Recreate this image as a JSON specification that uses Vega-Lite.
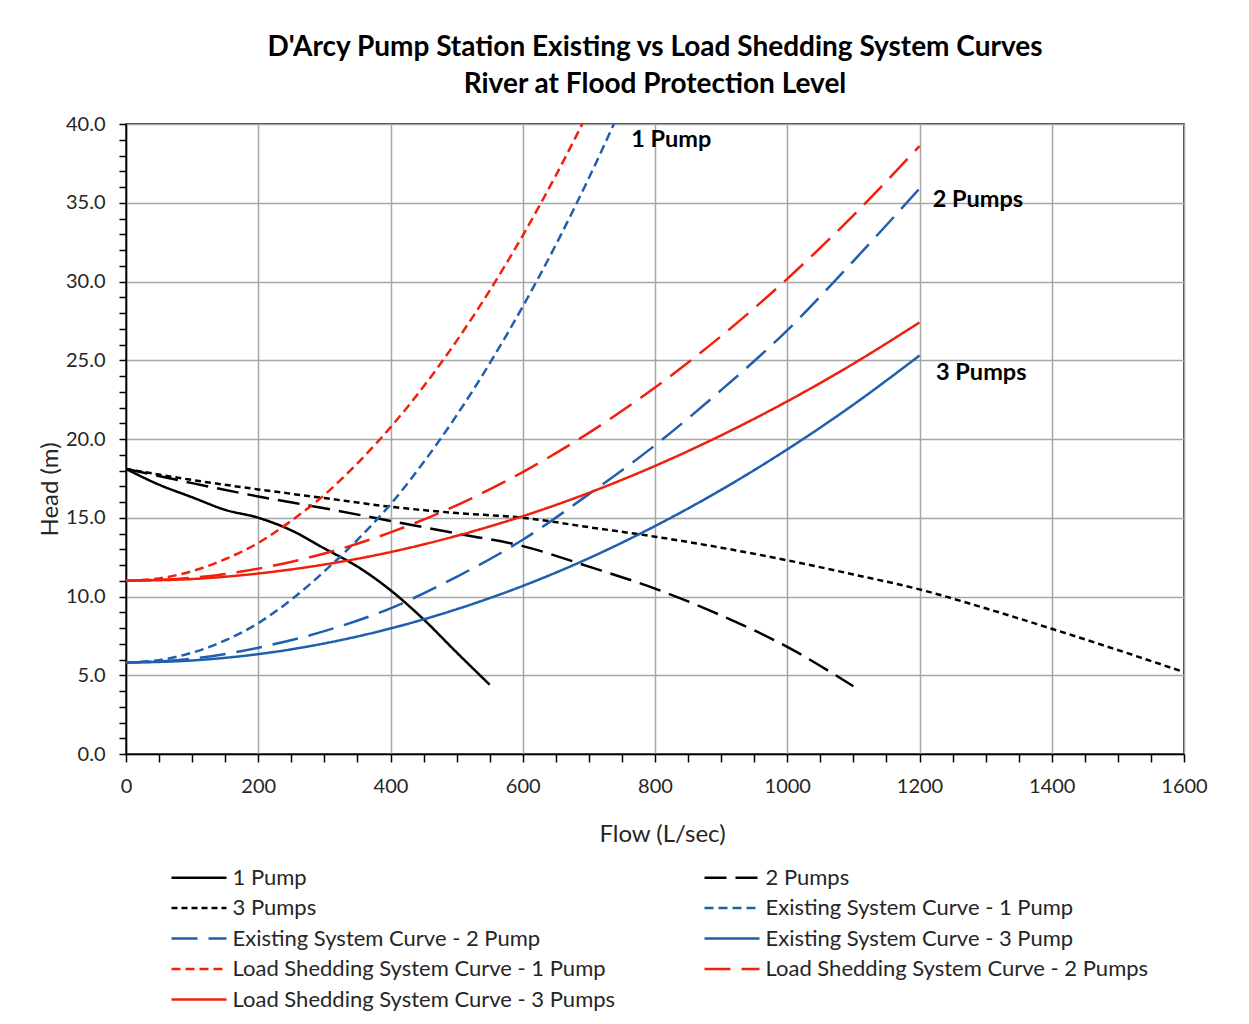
{
  "$schema": "https://vega.github.io/schema/vega-lite/v6.json",
  "width": 1058,
  "height": 630,
  "autosize": "none",
  "padding": {"left": 126, "top": 124, "right": 65, "bottom": 270},
  "background": "white",
  "config": {
    "font": "Lato",
    "view": {"stroke": "#000000", "strokeWidth": 1.5},
    "title": {"fontSize": 28, "fontWeight": "bold", "color": "#000000", "lineHeight": 37}
  },
  "title": {
    "text": ["D'Arcy Pump Station Existing vs Load Shedding System Curves", "River at Flood Protection Level"],
    "anchor": "middle",
    "offset": 15
  },
  "datasets": {
    "curves": [
      {"series": "1 Pump", "flow": 0, "head": 18.1},
      {"series": "1 Pump", "flow": 50, "head": 17.1},
      {"series": "1 Pump", "flow": 100, "head": 16.3},
      {"series": "1 Pump", "flow": 150, "head": 15.5},
      {"series": "1 Pump", "flow": 200, "head": 15.0},
      {"series": "1 Pump", "flow": 250, "head": 14.2},
      {"series": "1 Pump", "flow": 300, "head": 13.05},
      {"series": "1 Pump", "flow": 350, "head": 11.9},
      {"series": "1 Pump", "flow": 400, "head": 10.4},
      {"series": "1 Pump", "flow": 450, "head": 8.55},
      {"series": "1 Pump", "flow": 500, "head": 6.45},
      {"series": "1 Pump", "flow": 550, "head": 4.4},
      {"series": "2 Pumps", "flow": 0, "head": 18.1},
      {"series": "2 Pumps", "flow": 100, "head": 17.2},
      {"series": "2 Pumps", "flow": 200, "head": 16.35},
      {"series": "2 Pumps", "flow": 300, "head": 15.6},
      {"series": "2 Pumps", "flow": 400, "head": 14.8},
      {"series": "2 Pumps", "flow": 500, "head": 14.0},
      {"series": "2 Pumps", "flow": 600, "head": 13.2},
      {"series": "2 Pumps", "flow": 700, "head": 11.9},
      {"series": "2 Pumps", "flow": 800, "head": 10.5},
      {"series": "2 Pumps", "flow": 900, "head": 8.8},
      {"series": "2 Pumps", "flow": 1000, "head": 6.8},
      {"series": "2 Pumps", "flow": 1100, "head": 4.3},
      {"series": "3 Pumps", "flow": 0, "head": 18.1},
      {"series": "3 Pumps", "flow": 100, "head": 17.4},
      {"series": "3 Pumps", "flow": 200, "head": 16.8},
      {"series": "3 Pumps", "flow": 300, "head": 16.25},
      {"series": "3 Pumps", "flow": 400, "head": 15.7},
      {"series": "3 Pumps", "flow": 500, "head": 15.3},
      {"series": "3 Pumps", "flow": 600, "head": 15.0},
      {"series": "3 Pumps", "flow": 700, "head": 14.4},
      {"series": "3 Pumps", "flow": 800, "head": 13.8},
      {"series": "3 Pumps", "flow": 900, "head": 13.1},
      {"series": "3 Pumps", "flow": 1000, "head": 12.3},
      {"series": "3 Pumps", "flow": 1100, "head": 11.4},
      {"series": "3 Pumps", "flow": 1200, "head": 10.45},
      {"series": "3 Pumps", "flow": 1300, "head": 9.25},
      {"series": "3 Pumps", "flow": 1400, "head": 7.95},
      {"series": "3 Pumps", "flow": 1500, "head": 6.6},
      {"series": "3 Pumps", "flow": 1600, "head": 5.2},
      {"series": "Existing System Curve - 1 Pump", "flow": 0, "head": 5.8},
      {"series": "Existing System Curve - 1 Pump", "flow": 50, "head": 5.96},
      {"series": "Existing System Curve - 1 Pump", "flow": 100, "head": 6.43},
      {"series": "Existing System Curve - 1 Pump", "flow": 150, "head": 7.21},
      {"series": "Existing System Curve - 1 Pump", "flow": 200, "head": 8.31},
      {"series": "Existing System Curve - 1 Pump", "flow": 250, "head": 9.8},
      {"series": "Existing System Curve - 1 Pump", "flow": 300, "head": 11.6},
      {"series": "Existing System Curve - 1 Pump", "flow": 350, "head": 13.6},
      {"series": "Existing System Curve - 1 Pump", "flow": 400, "head": 15.85},
      {"series": "Existing System Curve - 1 Pump", "flow": 450, "head": 18.52},
      {"series": "Existing System Curve - 1 Pump", "flow": 500, "head": 21.5},
      {"series": "Existing System Curve - 1 Pump", "flow": 550, "head": 24.8},
      {"series": "Existing System Curve - 1 Pump", "flow": 600, "head": 28.41},
      {"series": "Existing System Curve - 1 Pump", "flow": 650, "head": 32.33},
      {"series": "Existing System Curve - 1 Pump", "flow": 700, "head": 36.57},
      {"series": "Existing System Curve - 1 Pump", "flow": 750, "head": 41.13},
      {"series": "Existing System Curve - 2 Pump", "flow": 0, "head": 5.8},
      {"series": "Existing System Curve - 2 Pump", "flow": 100, "head": 6.05},
      {"series": "Existing System Curve - 2 Pump", "flow": 200, "head": 6.75},
      {"series": "Existing System Curve - 2 Pump", "flow": 300, "head": 7.8},
      {"series": "Existing System Curve - 2 Pump", "flow": 400, "head": 9.25},
      {"series": "Existing System Curve - 2 Pump", "flow": 500, "head": 11.25},
      {"series": "Existing System Curve - 2 Pump", "flow": 600, "head": 13.6},
      {"series": "Existing System Curve - 2 Pump", "flow": 700, "head": 16.5},
      {"series": "Existing System Curve - 2 Pump", "flow": 800, "head": 19.6},
      {"series": "Existing System Curve - 2 Pump", "flow": 900, "head": 23.1},
      {"series": "Existing System Curve - 2 Pump", "flow": 1000, "head": 26.9},
      {"series": "Existing System Curve - 2 Pump", "flow": 1100, "head": 31.3},
      {"series": "Existing System Curve - 2 Pump", "flow": 1200, "head": 35.9},
      {"series": "Existing System Curve - 3 Pump", "flow": 0, "head": 5.8},
      {"series": "Existing System Curve - 3 Pump", "flow": 100, "head": 5.94},
      {"series": "Existing System Curve - 3 Pump", "flow": 200, "head": 6.34},
      {"series": "Existing System Curve - 3 Pump", "flow": 300, "head": 7.02},
      {"series": "Existing System Curve - 3 Pump", "flow": 400, "head": 7.97},
      {"series": "Existing System Curve - 3 Pump", "flow": 500, "head": 9.19},
      {"series": "Existing System Curve - 3 Pump", "flow": 600, "head": 10.67},
      {"series": "Existing System Curve - 3 Pump", "flow": 700, "head": 12.43},
      {"series": "Existing System Curve - 3 Pump", "flow": 800, "head": 14.47},
      {"series": "Existing System Curve - 3 Pump", "flow": 900, "head": 16.77},
      {"series": "Existing System Curve - 3 Pump", "flow": 1000, "head": 19.34},
      {"series": "Existing System Curve - 3 Pump", "flow": 1100, "head": 22.18},
      {"series": "Existing System Curve - 3 Pump", "flow": 1200, "head": 25.3},
      {"series": "Load Shedding System Curve - 1 Pump", "flow": 0, "head": 11.0},
      {"series": "Load Shedding System Curve - 1 Pump", "flow": 50, "head": 11.15},
      {"series": "Load Shedding System Curve - 1 Pump", "flow": 100, "head": 11.61},
      {"series": "Load Shedding System Curve - 1 Pump", "flow": 150, "head": 12.37},
      {"series": "Load Shedding System Curve - 1 Pump", "flow": 200, "head": 13.4},
      {"series": "Load Shedding System Curve - 1 Pump", "flow": 250, "head": 14.81},
      {"series": "Load Shedding System Curve - 1 Pump", "flow": 300, "head": 16.45},
      {"series": "Load Shedding System Curve - 1 Pump", "flow": 350, "head": 18.46},
      {"series": "Load Shedding System Curve - 1 Pump", "flow": 400, "head": 20.74},
      {"series": "Load Shedding System Curve - 1 Pump", "flow": 450, "head": 23.33},
      {"series": "Load Shedding System Curve - 1 Pump", "flow": 500, "head": 26.23},
      {"series": "Load Shedding System Curve - 1 Pump", "flow": 550, "head": 29.42},
      {"series": "Load Shedding System Curve - 1 Pump", "flow": 600, "head": 32.92},
      {"series": "Load Shedding System Curve - 1 Pump", "flow": 650, "head": 36.73},
      {"series": "Load Shedding System Curve - 1 Pump", "flow": 700, "head": 40.84},
      {"series": "Load Shedding System Curve - 2 Pumps", "flow": 0, "head": 11.0},
      {"series": "Load Shedding System Curve - 2 Pumps", "flow": 100, "head": 11.19},
      {"series": "Load Shedding System Curve - 2 Pumps", "flow": 200, "head": 11.77},
      {"series": "Load Shedding System Curve - 2 Pumps", "flow": 300, "head": 12.73},
      {"series": "Load Shedding System Curve - 2 Pumps", "flow": 400, "head": 14.07},
      {"series": "Load Shedding System Curve - 2 Pumps", "flow": 500, "head": 15.79},
      {"series": "Load Shedding System Curve - 2 Pumps", "flow": 600, "head": 17.9},
      {"series": "Load Shedding System Curve - 2 Pumps", "flow": 700, "head": 20.39},
      {"series": "Load Shedding System Curve - 2 Pumps", "flow": 800, "head": 23.27},
      {"series": "Load Shedding System Curve - 2 Pumps", "flow": 900, "head": 26.53},
      {"series": "Load Shedding System Curve - 2 Pumps", "flow": 1000, "head": 30.17},
      {"series": "Load Shedding System Curve - 2 Pumps", "flow": 1100, "head": 34.2},
      {"series": "Load Shedding System Curve - 2 Pumps", "flow": 1200, "head": 38.6},
      {"series": "Load Shedding System Curve - 3 Pumps", "flow": 0, "head": 11.0},
      {"series": "Load Shedding System Curve - 3 Pumps", "flow": 100, "head": 11.11},
      {"series": "Load Shedding System Curve - 3 Pumps", "flow": 200, "head": 11.46},
      {"series": "Load Shedding System Curve - 3 Pumps", "flow": 300, "head": 12.03},
      {"series": "Load Shedding System Curve - 3 Pumps", "flow": 400, "head": 12.82},
      {"series": "Load Shedding System Curve - 3 Pumps", "flow": 500, "head": 13.85},
      {"series": "Load Shedding System Curve - 3 Pumps", "flow": 600, "head": 15.1},
      {"series": "Load Shedding System Curve - 3 Pumps", "flow": 700, "head": 16.58},
      {"series": "Load Shedding System Curve - 3 Pumps", "flow": 800, "head": 18.29},
      {"series": "Load Shedding System Curve - 3 Pumps", "flow": 900, "head": 20.23},
      {"series": "Load Shedding System Curve - 3 Pumps", "flow": 1000, "head": 22.39},
      {"series": "Load Shedding System Curve - 3 Pumps", "flow": 1100, "head": 24.78},
      {"series": "Load Shedding System Curve - 3 Pumps", "flow": 1200, "head": 27.4}
    ],
    "labels": [
      {"label": "1 Pump", "flow": 764, "head": 39.0},
      {"label": "2 Pumps", "flow": 1220, "head": 35.2},
      {"label": "3 Pumps", "flow": 1225, "head": 24.2}
    ]
  },
  "encoding": {
    "x": {
      "field": "flow",
      "type": "quantitative",
      "scale": {"domain": [0, 1600], "nice": false, "zero": false},
      "axis": {
        "title": "Flow (L/sec)",
        "values": [0,50,100,150,200,250,300,350,400,450,500,550,600,650,700,750,800,850,900,950,1000,1050,1100,1150,1200,1250,1300,1350,1400,1450,1500,1550,1600],
        "labelExpr": "datum.value % 200 === 0 ? format(datum.value, 'd') : ''",
        "labelFlush": false,
        "labelOverlap": false,
        "labelFontSize": 20,
        "labelColor": "#262626",
        "labelPadding": 14,
        "tickSize": 8,
        "tickColor": "#000000",
        "tickWidth": 1.5,
        "domainColor": "#000000",
        "domainWidth": 1.5,
        "grid": true,
        "gridColor": "#a6a6a6",
        "gridWidth": 1.5,
        "gridOpacity": {"condition": {"test": "datum.value % 200 === 0", "value": 1}, "value": 0},
        "titleFontSize": 24,
        "titleFontWeight": "normal",
        "titleColor": "#262626",
        "titlePadding": 26,
        "titleX": 536
      }
    },
    "y": {
      "field": "head",
      "type": "quantitative",
      "scale": {"domain": [0, 40], "nice": false},
      "axis": {
        "title": "Head (m)",
        "values": [0,1,2,3,4,5,6,7,8,9,10,11,12,13,14,15,16,17,18,19,20,21,22,23,24,25,26,27,28,29,30,31,32,33,34,35,36,37,38,39,40],
        "labelExpr": "datum.value % 5 === 0 ? format(datum.value, '.1f') : ''",
        "labelOverlap": false,
        "labelFlush": false,
        "labelFontSize": 20,
        "labelColor": "#262626",
        "labelPadding": 14,
        "tickSize": 7,
        "tickColor": "#000000",
        "tickWidth": 1.5,
        "domainColor": "#000000",
        "domainWidth": 1.5,
        "grid": true,
        "gridColor": "#a6a6a6",
        "gridWidth": 1.5,
        "gridOpacity": {"condition": {"test": "datum.value % 5 === 0", "value": 1}, "value": 0},
        "titleFontSize": 24,
        "titleFontWeight": "normal",
        "titleColor": "#262626",
        "titlePadding": 3,
        "titleY": 365
      }
    }
  },
  "layer": [
    {
      "data": {"name": "curves"},
      "mark": {"type": "line", "clip": true, "interpolate": "monotone"},
      "encoding": {
        "color": {
          "field": "series",
          "type": "nominal",
          "scale": {
            "domain": ["1 Pump", "3 Pumps", "Existing System Curve - 2 Pump", "Load Shedding System Curve - 1 Pump", "Load Shedding System Curve - 3 Pumps", "2 Pumps", "Existing System Curve - 1 Pump", "Existing System Curve - 3 Pump", "Load Shedding System Curve - 2 Pumps"],
            "range": ["#000000", "#000000", "#1f5fae", "#f0200c", "#f0200c", "#000000", "#1f5fae", "#1f5fae", "#f0200c"]
          },
          "legend": {
            "title": null,
            "orient": "none",
            "legendX": 60.5,
            "legendY": 741,
            "columns": 2,
            "columnPadding": 84,
            "rowPadding": 6.5,
            "padding": 0,
            "symbolType": "M-2.5,0H2.5",
            "symbolSize": 484,
            "labelFontSize": 22,
            "labelColor": "#262626",
            "labelOffset": 21,
            "labelLimit": 600
          }
        },
        "strokeDash": {
          "field": "series",
          "type": "nominal",
          "scale": {
            "domain": ["1 Pump", "3 Pumps", "Existing System Curve - 2 Pump", "Load Shedding System Curve - 1 Pump", "Load Shedding System Curve - 3 Pumps", "2 Pumps", "Existing System Curve - 1 Pump", "Existing System Curve - 3 Pump", "Load Shedding System Curve - 2 Pumps"],
            "range": [[1, 0], [6, 4], [26, 11], [9, 5], [1, 0], [22, 9], [9, 5], [1, 0], [26, 11]]
          },
          "legend": null
        },
        "strokeWidth": {
          "field": "series",
          "type": "nominal",
          "scale": {
            "domain": ["1 Pump", "3 Pumps", "Existing System Curve - 2 Pump", "Load Shedding System Curve - 1 Pump", "Load Shedding System Curve - 3 Pumps", "2 Pumps", "Existing System Curve - 1 Pump", "Existing System Curve - 3 Pump", "Load Shedding System Curve - 2 Pumps"],
            "range": [2.5, 2.5, 3.5, 3.5, 2.5, 2.5, 3.5, 4, 3.5]
          },
          "legend": null
        }
      }
    },
    {
      "data": {"name": "labels"},
      "mark": {"type": "text", "align": "left", "baseline": "middle", "fontSize": 23.5, "fontWeight": "bold", "color": "#000000"},
      "encoding": {
        "text": {"field": "label", "type": "nominal"}
      }
    }
  ]
}
